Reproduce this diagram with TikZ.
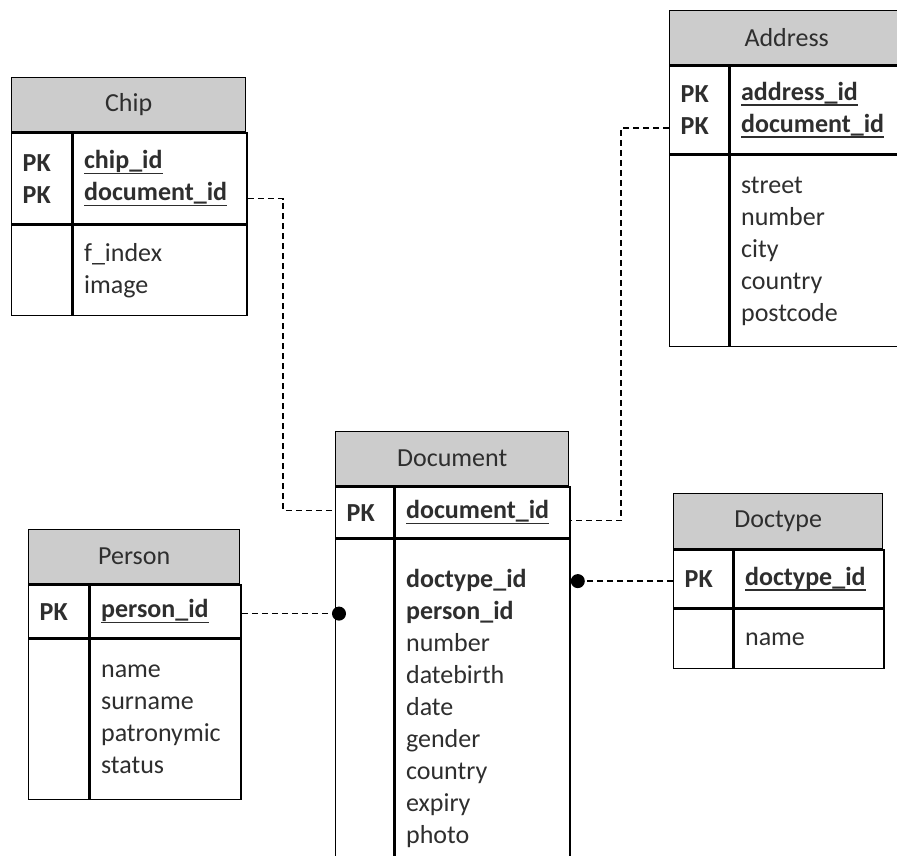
\documentclass[tikz,border=0pt]{standalone}
\usepackage{fontspec}
\setmainfont{Carlito}
\usepackage{tikz}
\usetikzlibrary{arrows.meta,positioning}
\newsavebox{\keybox}
\newcommand{\keyname}[1]{\leavevmode\sbox{\keybox}{\textbf{#1}}\rlap{\rule[-5.5pt]{\wd\keybox}{1.6pt}}\usebox{\keybox}}

\begin{document}
\begin{tikzpicture}
[x=1pt, y=-1pt,
 tbl/.style={draw, line width=1.4pt, inner sep=0pt, anchor=north west, text=black!82,
   font=\fontsize{26}{32}\selectfont},
 head/.style={tbl, fill=gray!40, align=center},
 field/.style={tbl, align=left, inner xsep=11pt},
 fk/.style={line width=1.4pt, dash pattern=on 6pt off 4pt}];
\useasboundingbox (0,0) rectangle (897,855);
\clip (0,0) rectangle (897,855);

% Chip
\node[head, minimum width=234pt, minimum height=54pt] (chiphead) at (11,77) {Chip};
\node[field, text width=38pt, minimum width=60pt, minimum height=91pt] (chippk) at (chiphead.south west) {\textbf{PK}\\\textbf{PK}};
\node[field, text width=152pt, minimum width=174pt, minimum height=91pt] (chipkey) at (chippk.north east) {\keyname{chip\_id}\\\keyname{document\_id}};
\node[field, minimum width=60pt, minimum height=90pt] (chipleft) at (chippk.south west) {};
\node[field, text width=152pt, minimum width=174pt, minimum height=90pt] (chipattr) at (chipkey.south west) {f\_index\\image};

% Address
\node[head, minimum width=234pt, minimum height=54pt] (addrhead) at (669,10) {Address};
\node[field, text width=37pt, minimum width=59pt, minimum height=88pt] (addrpk) at (addrhead.south west) {\textbf{PK}\\\textbf{PK}};
\node[field, text width=153pt, minimum width=175pt, minimum height=88pt] (addrkey) at (addrpk.north east) {\keyname{address\_id}\\\keyname{document\_id}};
\node[field, minimum width=59pt, minimum height=191pt] (addrleft) at (addrpk.south west) {};
\node[field, text width=153pt, minimum width=175pt, minimum height=191pt] (addrattr) at (addrkey.south west) {street\\number\\city\\country\\postcode};

% Document
\node[head, minimum width=233pt, minimum height=54pt] (dochead) at (335,431) {Document};
\node[field, text width=36pt, minimum width=58pt, minimum height=51pt] (docpk) at (dochead.south west) {\textbf{PK}};
\node[field, text width=153pt, minimum width=175pt, minimum height=51pt] (dockey) at (docpk.north east) {\keyname{document\_id}};
\node[field, minimum width=58pt, minimum height=337pt] (docleft) at (docpk.south west) {};
\node[field, text width=153pt, minimum width=175pt, minimum height=337pt] (docbody) at (dockey.south west) {\textbf{doctype\_id}\\\textbf{person\_id}\\number\\datebirth\\date\\gender\\country\\expiry\\photo};

% Person
\node[head, minimum width=211pt, minimum height=54pt] (pershead) at (28,529) {Person};
\node[field, text width=38pt, minimum width=60pt, minimum height=53pt] (perspk) at (pershead.south west) {\textbf{PK}};
\node[field, text width=129pt, minimum width=151pt, minimum height=53pt] (perskey) at (perspk.north east) {\keyname{person\_id}};
\node[field, minimum width=60pt, minimum height=160pt] (persleft) at (perspk.south west) {};
\node[field, text width=129pt, minimum width=151pt, minimum height=160pt] (persattr) at (perskey.south west) {name\\surname\\patronymic\\status};

% Doctype
\node[head, minimum width=209pt, minimum height=55pt] (dthead) at (673,493) {Doctype};
\node[field, text width=37pt, minimum width=59pt, minimum height=58pt] (dtpk) at (dthead.south west) {\textbf{PK}};
\node[field, text width=128pt, minimum width=150pt, minimum height=58pt] (dtkey) at (dtpk.north east) {\keyname{doctype\_id}};
\node[field, minimum width=59pt, minimum height=59pt] (dtleft) at (dtpk.south west) {};
\node[field, text width=128pt, minimum width=150pt, minimum height=59pt] (dtattr) at (dtkey.south west) {name};

% relations
\draw[fk] ([yshift=-20pt]chipkey.east) -| ([xshift=-52pt,yshift=2pt]docpk.west) -- ([yshift=2pt]docpk.west);
\draw[fk] ([yshift=-18pt]addrpk.west) -| ([xshift=50pt,yshift=-8pt]dockey.east) -- ([yshift=-8pt]dockey.east);
\draw[fk, -{Circle[length=14pt]}, shorten >=-11pt] ([yshift=-2pt]perskey.east) -- ([yshift=-2pt]perskey.east -| docleft.west);
\draw[fk, -{Circle[length=14pt]}] ([yshift=-2pt]dtpk.west) -- ([yshift=-2pt]dtpk.west -| docbody.east);
\end{tikzpicture}
\end{document}
